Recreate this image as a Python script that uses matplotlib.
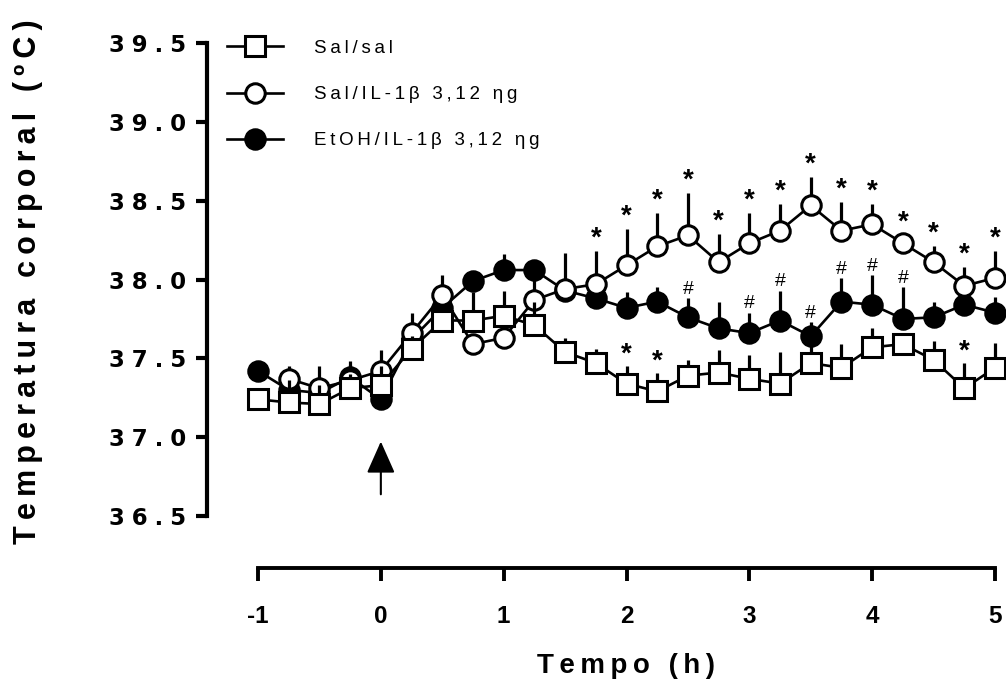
import numpy as np
import matplotlib
matplotlib.use("Agg")
import matplotlib.pyplot as plt
from matplotlib.lines import Line2D

plt.rcParams['font.family'] = ['Liberation Sans', 'DejaVu Sans']

# ---------------- data ----------------
time_h = [-1, -0.75, -0.5, -0.25, 0, 0.25, 0.5, 0.75, 1, 1.25, 1.5, 1.75,
          2, 2.25, 2.5, 2.75, 3, 3.25, 3.5, 3.75, 4, 4.25, 4.5, 4.75, 5]

sal_sal = [37.24, 37.22, 37.21, 37.31, 37.33, 37.56, 37.74, 37.74, 37.77, 37.71, 37.54, 37.47,
           37.34, 37.29, 37.39, 37.41, 37.37, 37.34, 37.47, 37.44, 37.57, 37.59, 37.49, 37.31, 37.44]
sal_sal_err = [0.03, 0.14, 0.12, 0.09, 0.12, 0.08, 0.10, 0.18, 0.16, 0.15, 0.09, 0.09,
               0.11, 0.12, 0.10, 0.14, 0.15, 0.20, 0.14, 0.15, 0.12, 0.03, 0.12, 0.16, 0.16]

sal_il = [np.nan, 37.37, 37.31, 37.36, 37.42, 37.66, 37.90, 37.59, 37.63, 37.87, 37.94, 37.97,
          38.09, 38.21, 38.28, 38.11, 38.23, 38.31, 38.47, 38.31, 38.35, 38.23, 38.11, 37.96, 38.01]
sal_il_err = [np.nan, 0.08, 0.14, 0.12, 0.13, 0.13, 0.13, 0.03, 0.05, 0.15, 0.23, 0.21,
              0.23, 0.21, 0.27, 0.18, 0.19, 0.17, 0.18, 0.18, 0.13, 0.05, 0.10, 0.12, 0.17]

etoh_il = [37.42, 37.30, 37.28, 37.38, 37.24, 37.62, 37.82, 37.99, 38.06, 38.06, 37.93, 37.88,
           37.82, 37.86, 37.76, 37.69, 37.66, 37.74, 37.64, 37.86, 37.84, 37.75, 37.76, 37.84, 37.79]
etoh_il_err = [0.03, 0.05, 0.08, 0.08, 0.05, 0.05, 0.10, 0.04, 0.10, 0.03, 0.05, 0.05,
               0.10, 0.09, 0.12, 0.17, 0.13, 0.19, 0.09, 0.15, 0.19, 0.20, 0.10, 0.06, 0.10]

star_il_times = [1.75, 2, 2.25, 2.5, 2.75, 3, 3.25, 3.5, 3.75, 4, 4.25, 4.5, 4.75, 5]
hash_etoh_times = [2.5, 3, 3.25, 3.5, 3.75, 4, 4.25]
star_sal_times = [2, 2.25, 4.75]

labels = ["Sal/sal", "Sal/IL-1β 3,12 ηg", "EtOH/IL-1β 3,12 ηg"]
x_ticks = [-1, 0, 1, 2, 3, 4, 5]
y_ticks = [36.5, 37.0, 37.5, 38.0, 38.5, 39.0, 39.5]
injection_time = 0


def spaced(s, sep):
    return sep.join(list(s))


# ---------------- figure ----------------
fig = plt.figure(figsize=(10.06, 6.88), dpi=100)
ax = fig.add_axes([0.2058, 0.1744, 0.7942, 0.7965])
ax.set_xlim(-1.415, 5.0896)
ax.set_ylim(36.17, 39.646)

x = np.array(time_h, dtype=float)
lw = 1.9
mew = 2.2
ms = 14
elw = 2.3

series = [
    (etoh_il, etoh_il_err, 'o', 'black', 3),
    (sal_il, sal_il_err, 'o', 'white', 5),
    (sal_sal, sal_sal_err, 's', 'white', 7),
]
for vals, errs, mk, fc, z in series:
    v = np.array(vals, dtype=float)
    e = np.array(errs, dtype=float)
    ax.errorbar(x, v, yerr=[np.zeros_like(e), e], fmt='none', ecolor='black',
                elinewidth=elw, capsize=0, zorder=z, clip_on=False)
    ax.plot(x, v, '-', color='black', lw=lw, zorder=z + 0.5, clip_on=False)
    ax.plot(x, v, linestyle='none', marker=mk, ms=ms, mfc=fc, mec='black', mew=mew,
            zorder=z + 1, clip_on=False)


def top_of(vals, errs, t):
    i = time_h.index(t)
    return vals[i] + errs[i]


for t in star_il_times:
    ax.annotate('*', xy=(t, top_of(sal_il, sal_il_err, t)), xytext=(0, 4),
                textcoords='offset points', ha='center', va='baseline',
                fontsize=20, fontweight='bold', zorder=10)
for t in hash_etoh_times:
    ax.annotate('#', xy=(t, top_of(etoh_il, etoh_il_err, t)), xytext=(0, 3),
                textcoords='offset points', ha='center', va='baseline',
                fontsize=14, zorder=10)
for t in star_sal_times:
    ax.annotate('*', xy=(t, top_of(sal_sal, sal_sal_err, t)), xytext=(0, 3),
                textcoords='offset points', ha='center', va='baseline',
                fontsize=20, fontweight='bold', zorder=10)

# injection arrow
ax.annotate('', xy=(injection_time, 36.99), xytext=(injection_time, 36.62),
            arrowprops=dict(arrowstyle='-|>,head_length=0.9,head_width=0.4',
                            lw=1.5, color='black', mutation_scale=22))

# spines / axes
for s in ['top', 'right']:
    ax.spines[s].set_visible(False)
ax.spines['left'].set_bounds(36.5, 39.5)
ax.spines['bottom'].set_bounds(-1, 5)
ax.spines['left'].set_linewidth(3.0)
ax.spines['bottom'].set_linewidth(2.8)

ax.set_xticks(x_ticks)
ax.set_xticklabels([str(t) for t in x_ticks], fontsize=17.5, fontweight='bold')
ax.set_yticks(y_ticks)
ax.set_yticklabels([spaced(f"{t:.1f}", '\u2009\u200a') for t in y_ticks], fontsize=16.5,
                   fontweight='bold', family='DejaVu Sans')
ax.tick_params(axis='y', length=8, width=3.0, pad=7)
ax.tick_params(axis='x', length=9.4, width=2.8, pad=17)

ax.set_xlabel(spaced("Tempo (h)", '\u2009'), fontsize=20, fontweight='bold')
ax.xaxis.set_label_coords(0.525, -0.155)
ax.set_ylabel(spaced("Temperatura corporal (ºC)", '\u2009'), fontsize=22, fontweight='bold')
ax.yaxis.set_label_coords(-0.205, 0.522)

# legend
handles = [
    Line2D([], [], color='black', lw=lw, marker='s', ms=ms, mfc='white', mec='black', mew=mew),
    Line2D([], [], color='black', lw=lw, marker='o', ms=ms, mfc='white', mec='black', mew=mew),
    Line2D([], [], color='black', lw=lw, marker='o', ms=ms, mfc='black', mec='black', mew=mew),
]
leg = fig.legend(handles, [spaced(l, '\u2009') for l in labels], loc='upper left',
                 bbox_to_anchor=(0.2256, 0.942), frameon=False, fontsize=13.5,
                 handlelength=3.0, handletextpad=1.65, labelspacing=1.55,
                 borderaxespad=0, borderpad=0)

fig.savefig('out.png', dpi=100)
